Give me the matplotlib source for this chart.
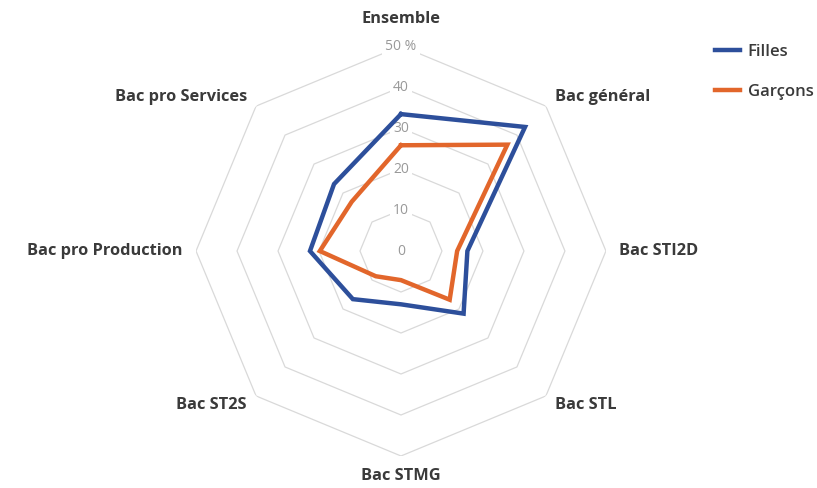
import numpy as np
import matplotlib.pyplot as plt

# Categories (clockwise from the top) and values in %
categories = ['Ensemble', 'Bac général', 'Bac STI2D', 'Bac STL', 'Bac STMG',
              'Bac ST2S', 'Bac pro Production', 'Bac pro Services']
filles = [33.4, 42.8, 16.2, 21.6, 13.0, 16.6, 22.2, 23.1]
garcons = [25.8, 36.7, 13.7, 16.8, 7.1, 8.7, 19.8, 17.0]
levels = [0, 10, 20, 30, 40, 50]
level_labels = ['0', '10', '20', '30', '40', '50 %']

blue = '#2d4f9b'
orange = '#e2662b'
text_col = '#3a3a3a'

plt.rcParams['font.family'] = ['Open Sans', 'DejaVu Sans']

n = len(categories)
# angles going clockwise, starting at the top
angles = np.pi / 2 - np.arange(n) * 2 * np.pi / n
closed = np.append(angles, angles[0])

fig = plt.figure(figsize=(8.17, 4.88), dpi=100)
ax = fig.add_axes([0.2399, 0.0656, 0.5018, 0.840], projection='polar')
ax.set_ylim(0, 50)
ax.grid(False)
ax.spines['polar'].set_visible(False)
ax.set_xticks([])
ax.set_yticks([])
ax.patch.set_alpha(0)

# octagonal grid
for lv in levels[1:]:
    ax.plot(closed, [lv] * (n + 1), color='#d9d9d9', lw=0.9, zorder=1)

# series
ax.plot(closed, filles + filles[:1], color=blue, lw=3.2, zorder=3,
        solid_joinstyle='miter', label='Filles')
ax.plot(closed, garcons + garcons[:1], color=orange, lw=3.2, zorder=3,
        solid_joinstyle='miter', label='Garçons')

# radial tick labels with white boxes over the grid
for lv, lab in zip(levels, level_labels):
    ax.text(np.pi / 2, lv, lab, ha='center', va='center', fontsize=10,
            color='#999999', zorder=2,
            bbox=dict(boxstyle='square,pad=0.25', fc='white', ec='none'))

# category labels
for ang, cat in zip(angles, categories):
    c = np.cos(ang)
    if abs(c) < 0.01:
        ha = 'center'
        r = 56.5 if np.sin(ang) > 0 else 55
    else:
        ha = 'left' if c > 0 else 'right'
        r = 53.2
    ax.text(ang, r, cat, ha=ha, va='center', fontsize=11.8,
            fontweight='bold', color=text_col, clip_on=False)

leg = fig.legend(loc='upper left', bbox_to_anchor=(0.857, 0.94),
                 frameon=False, fontsize=12, handlelength=1.5,
                 labelspacing=1.4, handletextpad=0.45)
for t in leg.get_texts():
    t.set_color(text_col)
    t.set_fontweight('semibold')

fig.savefig('out.png', dpi=100, facecolor='white')
